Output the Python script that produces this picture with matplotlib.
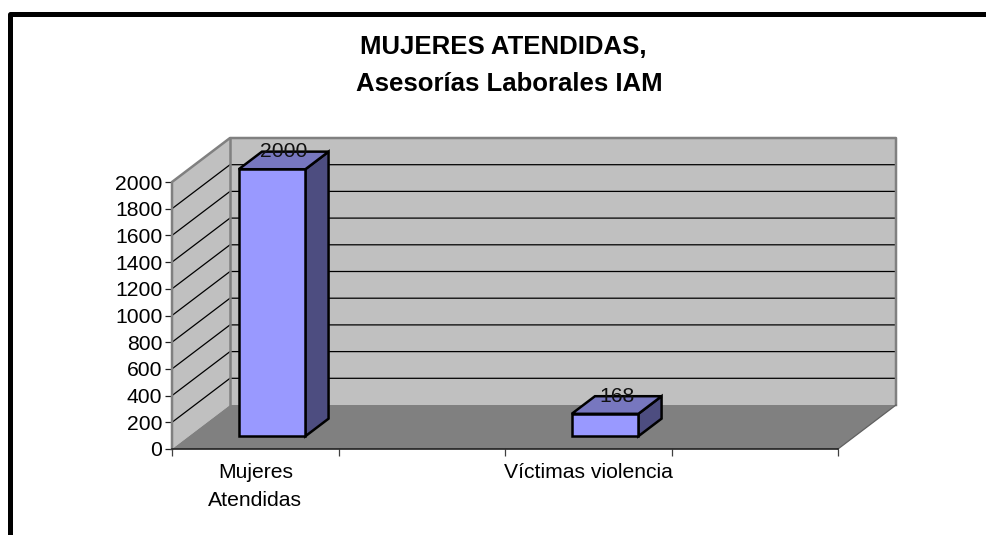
import matplotlib
matplotlib.use('Agg')
import matplotlib.pyplot as plt
from matplotlib.lines import Line2D

plt.rcParams['font.family'] = ['Liberation Sans', 'DejaVu Sans']

title_lines = ['MUJERES ATENDIDAS,', 'Asesorías Laborales IAM']
categories = ['Mujeres\nAtendidas', '', 'Víctimas violencia', '']
values = [2000, None, 168, None]
yticks = list(range(0, 2001, 200))

W, H = 986, 535
fig = plt.figure(figsize=(W / 100, H / 100), dpi=100)
ax = fig.add_axes([172 / W, 1 - 449 / H, 666 / W, 267 / H])
ax.set_xlim(0, len(categories))
ax.set_ylim(0, 2000)

# fake 3d: how far the back wall sits from the front plane, in data units
dx = 58 / 166.5
dy = 44 / 267 * 2000


def pt(x, y, z):
    return x + z * dx, y + z * dy


def poly(points, **kw):
    xs = [p[0] for p in points]
    ys = [p[1] for p in points]
    ax.fill(xs, ys, clip_on=False, **kw)


n = len(categories)
top = yticks[-1]

# walls and floor
poly([pt(0, 0, 0), pt(0, top, 0), pt(0, top, 1), pt(0, 0, 1)], fc='#C0C0C0', ec='none', zorder=1)
poly([pt(0, 0, 1), pt(0, top, 1), pt(n, top, 1), pt(n, 0, 1)], fc='#C0C0C0', ec='none', zorder=1)
poly([pt(0, 0, 0), pt(0, 0, 1), pt(n, 0, 1), pt(n, 0, 0)], fc='#808080', ec='none', zorder=2)

# gridlines
for t in yticks[1:-1]:
    a = pt(0, t, 0)
    b = pt(0, t, 1)
    c = pt(n, t, 1)
    ax.plot([a[0], b[0], c[0]], [a[1], b[1], c[1]], color='black', lw=0.9, clip_on=False, zorder=1.5)

# wall outline
wall = [pt(0, 0, 0), pt(0, top, 0), pt(0, top, 1), pt(n, top, 1), pt(n, 0, 1)]
ax.plot([p[0] for p in wall], [p[1] for p in wall], color='#808080', lw=1.8, clip_on=False, zorder=1.6)
back = [pt(0, top, 1), pt(0, 0, 1)]
ax.plot([p[0] for p in back], [p[1] for p in back], color='#808080', lw=1.8, clip_on=False, zorder=1.6)
edge = [pt(n, 0, 1), pt(n, 0, 0)]
ax.plot([p[0] for p in edge], [p[1] for p in edge], color='#606060', lw=0.9, clip_on=False, zorder=2.5)

# bars
half = 0.2
z0, z1 = 0.29, 0.69
for i, v in enumerate(values):
    if v is None:
        continue
    xl = i + 0.5 - half
    xr = i + 0.5 + half
    style = dict(ec='black', lw=1.8, joinstyle='miter', zorder=4)
    poly([pt(xr, 0, z0), pt(xr, v, z0), pt(xr, v, z1), pt(xr, 0, z1)], fc='#4D4D80', **style)
    poly([pt(xl, v, z0), pt(xl, v, z1), pt(xr, v, z1), pt(xr, v, z0)], fc='#7777BF', **style)
    poly([pt(xl, 0, z0), pt(xl, v, z0), pt(xr, v, z0), pt(xr, 0, z0)], fc='#9999FF', **style)
    lx = pt(i + 0.5, v, (z0 + z1) / 2)[0]
    ly = pt(i + 0.5, v, z1)[1]
    ax.text(lx, ly, str(v), ha='center', va='center', fontsize=15.2, color='#111111', zorder=5, clip_on=False)

# axes
for s in ['top', 'right']:
    ax.spines[s].set_visible(False)
ax.spines['left'].set_color('#808080')
ax.spines['left'].set_linewidth(1.4)
ax.spines['bottom'].set_color('#202020')
ax.spines['bottom'].set_linewidth(1.2)
ax.spines['left'].set_zorder(6)
ax.spines['bottom'].set_zorder(6)
ax.patch.set_visible(False)

ax.set_yticks(yticks)
ax.tick_params(axis='y', length=5, width=0.9, pad=2, labelsize=15.2, color='#202020')
ax.set_xticks(range(n + 1))
ax.set_xticklabels([])
ax.tick_params(axis='x', which='major', length=5, width=0.9, color='#404040')
ax.set_xticks([i + 0.5 for i in range(n)], minor=True)
ax.set_xticklabels(categories, minor=True, fontsize=15.2, linespacing=1.62)
ax.tick_params(axis='x', which='minor', length=0, pad=10)

# two separate lines, the second sits a little to the right in the original
fig.text(503 / W, 1 - 47 / H, title_lines[0], ha='center', va='center', fontsize=18.5, fontweight='bold')
fig.text(509 / W, 1 - 84 / H, title_lines[1], ha='center', va='center', fontsize=18.5, fontweight='bold')

# black frame of the embedded picture, open on the right and bottom
fig.add_artist(Line2D([10 / W, 10 / W, 1], [0, 1 - 13.5 / H, 1 - 13.5 / H], color='black', lw=3.6,
                      solid_joinstyle='round'))

fig.savefig('out.png', dpi=100)
